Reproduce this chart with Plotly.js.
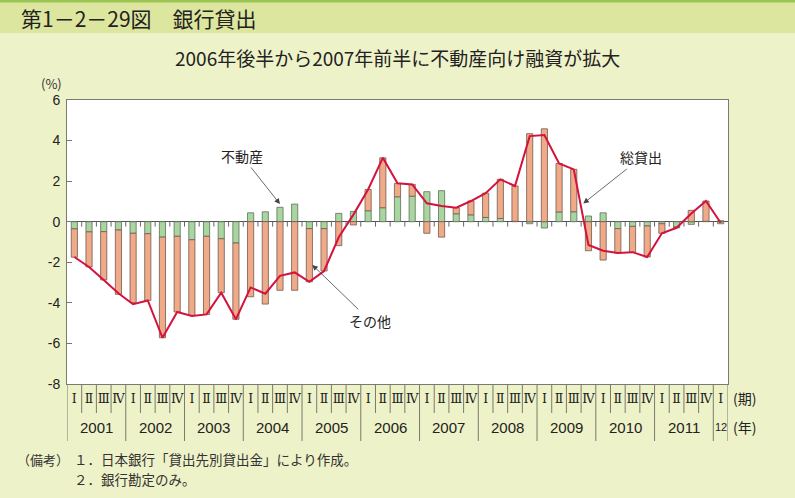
<!DOCTYPE html>
<html>
<head>
<meta charset="utf-8">
<script src="https://cdn.plot.ly/plotly-3.0.1.min.js"></script>
<style>
html,body{margin:0;padding:0;background:#eef2c8;}
#chart{width:795px;height:498px;}
</style>
</head>
<body>
<div id="chart"></div>
<script>
// ---- data ----
const quarterLabels = ["Ⅰ","Ⅱ","Ⅲ","Ⅳ","Ⅰ","Ⅱ","Ⅲ","Ⅳ","Ⅰ","Ⅱ","Ⅲ","Ⅳ","Ⅰ","Ⅱ","Ⅲ","Ⅳ",
  "Ⅰ","Ⅱ","Ⅲ","Ⅳ","Ⅰ","Ⅱ","Ⅲ","Ⅳ","Ⅰ","Ⅱ","Ⅲ","Ⅳ","Ⅰ","Ⅱ","Ⅲ","Ⅳ",
  "Ⅰ","Ⅱ","Ⅲ","Ⅳ","Ⅰ","Ⅱ","Ⅲ","Ⅳ","Ⅰ","Ⅱ","Ⅲ","Ⅳ","Ⅰ"];
const yearLabels = ["2001","2002","2003","2004","2005","2006","2007","2008","2009","2010","2011","12"];
const realEstate = [ // 不動産
  -0.35,-0.50,-0.49,-0.41,
  -0.57,-0.59,-0.76,-0.72,
  -0.89,-0.72,-0.84,-1.05,
   0.44, 0.49, 0.71, 0.87,
  -0.34,-0.34, 0.41, 0.51,
   0.54, 0.69, 1.23, 1.26,
   1.48, 1.53, 0.39, 0.34,
   0.21, 0.16, 0.02,-0.10,
  -0.31, 0.48, 0.49, 0.28,
   0.44,-0.34,-0.23,-0.21,
  -0.10,-0.26,-0.13, 0.02,
  -0.10];
const others = [ // その他
  -1.40,-1.73,-2.38,-3.17,
  -3.42,-3.29,-4.96,-3.73,
  -3.73,-3.85,-2.66,-3.76,
  -3.70,-4.06,-3.38,-3.38,
  -2.62,-2.09,-1.18,-0.16,
   1.05, 2.46, 0.66, 0.58,
  -0.57,-0.76, 0.30, 0.68,
   1.20, 1.93, 1.74, 4.34,
   4.58, 2.39, 2.09,-1.43,
  -1.89,-1.20,-1.27,-1.53,
  -0.47,-0.04, 0.56, 1.00,
   0.05];
const totalLoans = [ // 総貸出
  -1.74,-2.23,-2.87,-3.53,
  -4.07,-3.88,-5.72,-4.45,
  -4.65,-4.57,-3.50,-4.81,
  -3.24,-3.55,-2.67,-2.50,
  -2.96,-2.43,-0.77, 0.35,
   1.59, 3.15, 1.89, 1.84,
   0.91, 0.77, 0.69, 1.02,
   1.41, 2.09, 1.76, 4.22,
   4.27, 2.87, 2.58,-1.15,
  -1.43,-1.54,-1.50,-1.74,
  -0.57,-0.30, 0.40, 1.02,
  -0.05];

// ---- layout helpers ----
const W = 795, H = 498;
const M = {l:67, r:67, t:100, b:114};
const PW = W - M.l - M.r, PH = H - M.t - M.b;
const px = x => (x - M.l) / PW;          // page px -> paper x
const py = y => (H - M.b - y) / PH;       // page px -> paper y

const xs = quarterLabels.map((_, i) => i);
const JP = '"Noto Sans CJK JP", "Noto Sans", sans-serif';
const NUM = '"Liberation Sans", Arial, sans-serif';

const traces = [
  {type:'bar', x:xs, y:realEstate, name:'不動産', width:0.42,
   marker:{color:'#a9d6a0', line:{color:'#5f6f5a', width:0.8}}, hoverinfo:'skip'},
  {type:'bar', x:xs, y:others, name:'その他', width:0.42,
   marker:{color:'#f1aa88', line:{color:'#6f5a50', width:0.8}}, hoverinfo:'skip'},
  {type:'scatter', mode:'lines', x:xs, y:totalLoans, name:'総貸出',
   line:{color:'#d4123c', width:2}, hoverinfo:'skip'}
];

const shapes = [];
// header band
shapes.push({type:'rect', xref:'paper', yref:'paper', x0:px(-5), x1:px(800), y0:py(33), y1:py(-5),
  fillcolor:'#dde69e', line:{width:0}, layer:'below'});
shapes.push({type:'line', xref:'paper', yref:'paper', x0:px(-5), x1:px(800), y0:py(1), y1:py(1),
  line:{color:'#9cc653', width:3}, layer:'below'});
// separators under the axis
for (let k = 0; k <= quarterLabels.length; k++) {
  const isYear = (k % 4 === 0) || k === quarterLabels.length;
  shapes.push({type:'line', xref:'x', yref:'paper', x0:k-0.5, x1:k-0.5, y0:0,
    y1: isYear ? py(441) : py(413), line:{color:'#7a7a6e', width:1}});
}
// small ticks under the zero line
for (let k = 1; k < quarterLabels.length; k++) {
  shapes.push({type:'line', xref:'x', yref:'y', x0:k-0.5, x1:k-0.5, y0:0, y1:-0.24,
    line:{color:'#666', width:1}, layer:'above'});
}

const annotations = [];
annotations.push({xref:'paper', yref:'paper', x:px(19), y:py(18), xanchor:'left', yanchor:'middle',
  text:'第1－2－29図　銀行貸出', showarrow:false, font:{family:JP, size:21, color:'#222'}});
annotations.push({xref:'paper', yref:'paper', x:px(397), y:py(57), xanchor:'center', yanchor:'middle',
  text:'2006年後半から2007年前半に不動産向け融資が拡大', showarrow:false, font:{family:JP, size:19, color:'#222'}});
annotations.push({xref:'paper', yref:'paper', x:px(64), y:py(83), xanchor:'right', yanchor:'middle',
  text:'(%)', showarrow:false, font:{family:JP, size:13, color:'#333'}});
yearLabels.forEach((t, j) => {
  const xc = (j < yearLabels.length - 1) ? j*4 + 1.5 : j*4;
  annotations.push({xref:'x', yref:'paper', x:xc, y:py(427), xanchor:'center', yanchor:'middle',
    text:t, showarrow:false, font:{family:NUM, size: t.length < 4 ? 11 : 15, color:'#222'}});
});
annotations.push({xref:'paper', yref:'paper', x:px(731), y:py(398), xanchor:'left', yanchor:'middle',
  text:'(期)', showarrow:false, font:{family:JP, size:14, color:'#222'}});
annotations.push({xref:'paper', yref:'paper', x:px(731), y:py(427), xanchor:'left', yanchor:'middle',
  text:'(年)', showarrow:false, font:{family:JP, size:14, color:'#222'}});
annotations.push({xref:'paper', yref:'paper', x:px(16), y:py(459), xanchor:'left', yanchor:'middle',
  text:'（備考）', showarrow:false, borderpad:0, font:{family:JP, size:13, color:'#333'}});
annotations.push({xref:'paper', yref:'paper', x:px(73), y:py(459), xanchor:'left', yanchor:'middle',
  text:'１．日本銀行「貸出先別貸出金」により作成。', showarrow:false, borderpad:0,
  font:{family:JP, size:13.5, color:'#333'}});
annotations.push({xref:'paper', yref:'paper', x:px(73), y:py(479), xanchor:'left', yanchor:'middle',
  text:'２．銀行勘定のみ。', showarrow:false, borderpad:0,
  font:{family:JP, size:13.5, color:'#333'}});
// callouts
const callout = (x, y, ax, ay, text) => ({xref:'x', yref:'y', x:x, y:y, ax:ax, ay:ay, text:text,
  showarrow:true, arrowhead:2, arrowsize:1.4, arrowwidth:0.8, arrowcolor:'#444',
  font:{family:JP, size:14, color:'#222'}});
annotations.push(callout(14.0, 0.87, -38, -48, '不動産'));
annotations.push(callout(16.2, -2.13, 58, 56, 'その他'));
annotations.push(callout(34.65, 0.9, 58, -46, '総貸出'));

const layout = {
  width:W, height:H, margin:M,
  paper_bgcolor:'#eef2c8', plot_bgcolor:'#ffffff',
  barmode:'relative', bargap:0, showlegend:false,
  xaxis:{range:[-0.5, quarterLabels.length - 0.5], tickvals:xs, ticktext:quarterLabels,
    tickangle:0, ticks:'', showgrid:false, zeroline:false,
    showline:true, mirror:true, linecolor:'#7a7a6e', linewidth:1,
    tickfont:{family:'"DejaVu Serif", "Liberation Serif", serif', size:12.5, color:'#222'},
    ticklabelstandoff:3, fixedrange:true},
  yaxis:{range:[-8, 6], tickvals:[-8,-6,-4,-2,0,2,4,6], ticktext:['-8','-6','-4','-2','0','2','4','6'],
    ticks:'inside', ticklen:5, tickcolor:'#777', showgrid:false,
    zeroline:true, zerolinecolor:'#555', zerolinewidth:1,
    showline:true, mirror:true, linecolor:'#7a7a6e', linewidth:1,
    tickfont:{family:NUM, size:14, color:'#222'}, ticklabelstandoff:3, fixedrange:true},
  shapes:shapes, annotations:annotations
};
Plotly.newPlot('chart', traces, layout, {displayModeBar:false, staticPlot:true});
</script>
</body>
</html>
